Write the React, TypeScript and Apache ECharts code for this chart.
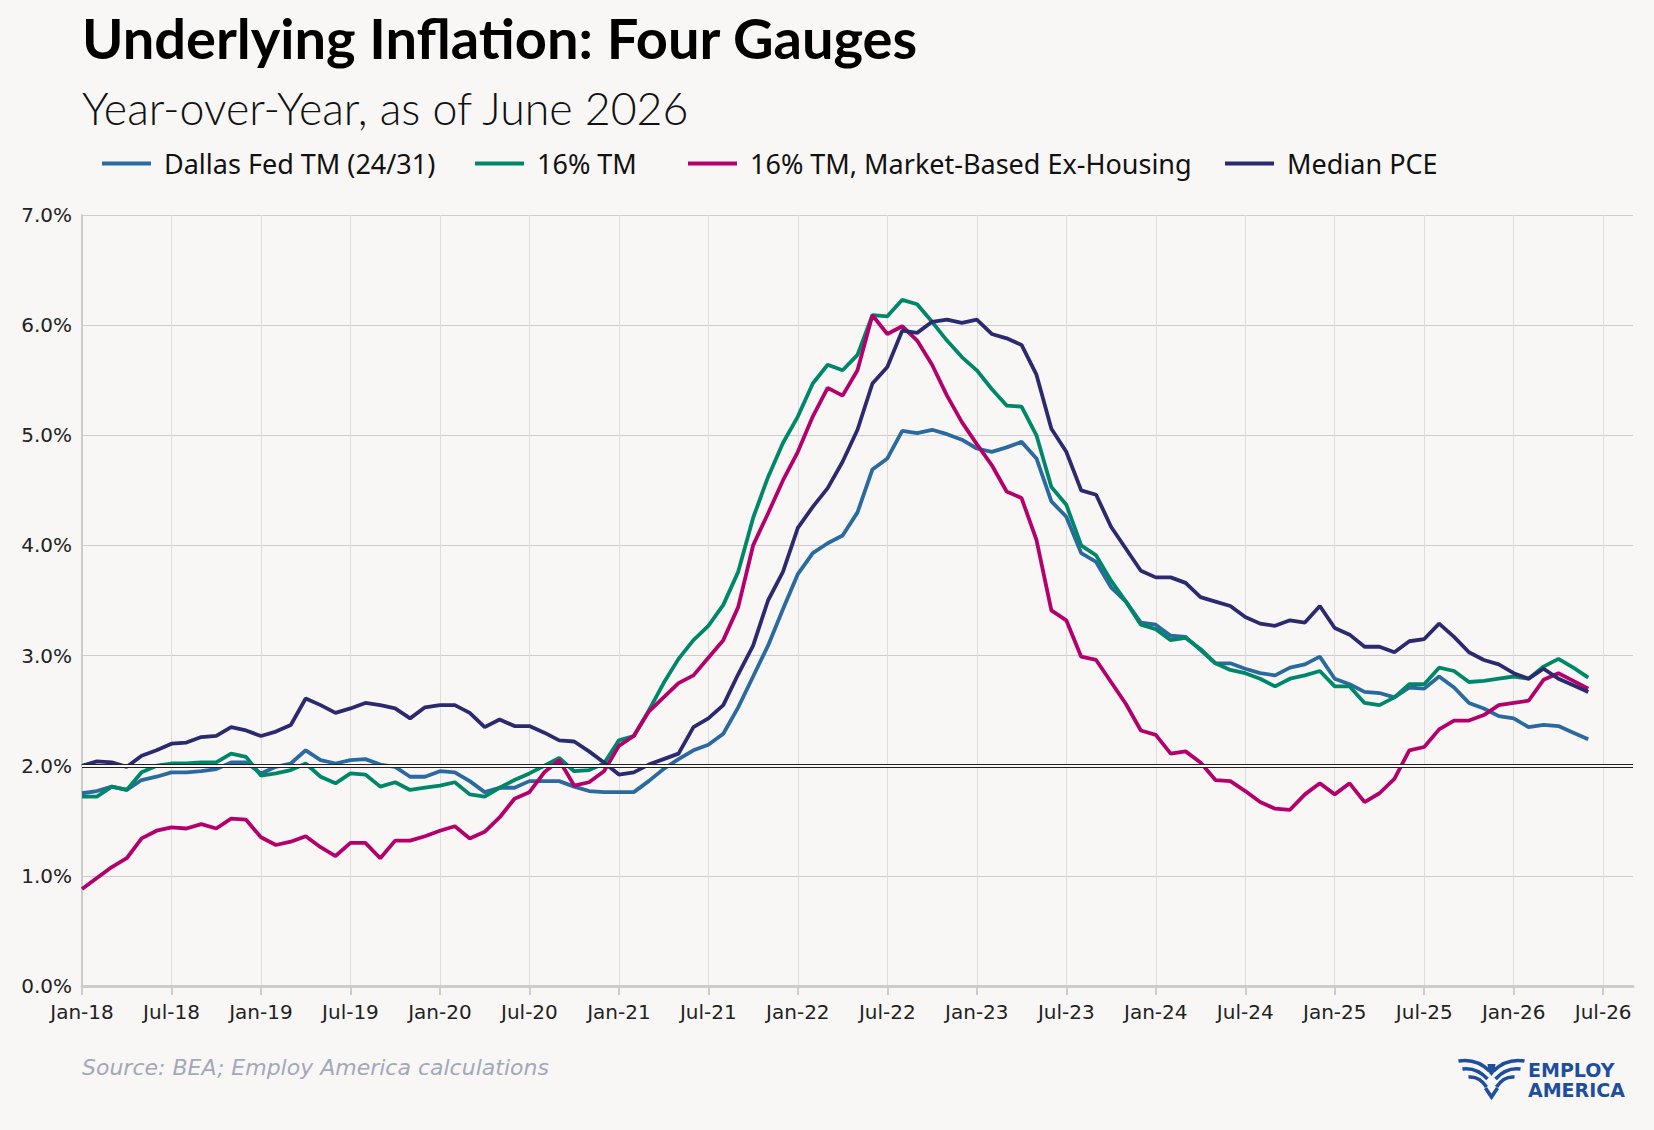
import React, { useEffect, useRef } from 'react';
import * as echarts from 'echarts';

// monthly, Jan-18 .. Jun-26, year-over-year %
const dallasFed = [
  1.75, 1.77, 1.81, 1.78, 1.87, 1.90, 1.94, 1.94, 1.95, 1.97, 2.03, 2.03,
  1.93, 1.99, 2.02, 2.14, 2.05, 2.02, 2.05, 2.06, 2.01, 1.99, 1.90, 1.90,
  1.95, 1.94, 1.86, 1.76, 1.80, 1.80, 1.86, 1.86, 1.86, 1.81, 1.77, 1.76,
  1.76, 1.76, 1.86, 1.97, 2.06, 2.14, 2.19, 2.29, 2.53, 2.81, 3.09, 3.42,
  3.74, 3.93, 4.02, 4.09, 4.30, 4.69, 4.79, 5.04, 5.02, 5.05, 5.01, 4.96,
  4.88, 4.85, 4.89, 4.94, 4.79, 4.40, 4.26, 3.93, 3.85, 3.62, 3.49, 3.30,
  3.28, 3.18, 3.17, 3.05, 2.93, 2.93, 2.88, 2.84, 2.82, 2.89, 2.92, 2.99,
  2.79, 2.74, 2.67, 2.66, 2.62, 2.71, 2.70, 2.81, 2.71, 2.57, 2.52, 2.45,
  2.43, 2.35, 2.37, 2.36, 2.30, 2.24,
];

const trimmed16 = [
  1.72, 1.72, 1.81, 1.78, 1.94, 2.00, 2.02, 2.02, 2.03, 2.03, 2.11, 2.08,
  1.91, 1.93, 1.96, 2.02, 1.90, 1.84, 1.93, 1.92, 1.81, 1.85, 1.78, 1.80,
  1.82, 1.85, 1.74, 1.72, 1.80, 1.87, 1.93, 2.00, 2.07, 1.95, 1.96, 2.02,
  2.23, 2.27, 2.50, 2.75, 2.97, 3.14, 3.27, 3.46, 3.76, 4.25, 4.62, 4.93,
  5.17, 5.47, 5.64, 5.59, 5.73, 6.09, 6.08, 6.23, 6.19, 6.03, 5.86, 5.71,
  5.59, 5.42, 5.27, 5.26, 5.00, 4.53, 4.37, 4.00, 3.91, 3.68, 3.49, 3.28,
  3.24, 3.14, 3.16, 3.06, 2.93, 2.87, 2.84, 2.79, 2.72, 2.79, 2.82, 2.86,
  2.72, 2.72, 2.57, 2.55, 2.62, 2.74, 2.74, 2.89, 2.86, 2.76, 2.77, 2.79,
  2.81, 2.79, 2.90, 2.97, 2.89, 2.80,
];

const marketExHousing = [
  0.88, 0.98, 1.08, 1.16, 1.34, 1.41, 1.44, 1.43, 1.47, 1.43, 1.52, 1.51,
  1.35, 1.28, 1.31, 1.36, 1.26, 1.18, 1.30, 1.30, 1.16, 1.32, 1.32, 1.36,
  1.41, 1.45, 1.34, 1.40, 1.53, 1.70, 1.76, 1.94, 2.05, 1.82, 1.85, 1.95,
  2.18, 2.27, 2.49, 2.62, 2.75, 2.82, 2.98, 3.14, 3.44, 4.00, 4.29, 4.59,
  4.85, 5.17, 5.43, 5.36, 5.59, 6.09, 5.92, 5.99, 5.86, 5.64, 5.36, 5.12,
  4.92, 4.73, 4.49, 4.43, 4.05, 3.41, 3.32, 2.99, 2.96, 2.76, 2.56, 2.32,
  2.28, 2.11, 2.13, 2.03, 1.87, 1.86, 1.77, 1.67, 1.61, 1.60, 1.74, 1.84,
  1.74, 1.84, 1.67, 1.75, 1.88, 2.14, 2.17, 2.33, 2.41, 2.41, 2.46, 2.55,
  2.57, 2.59, 2.78, 2.84, 2.77, 2.70,
];

const medianPce = [
  2.00, 2.04, 2.03, 1.99, 2.09, 2.14, 2.20, 2.21, 2.26, 2.27, 2.35, 2.32,
  2.27, 2.31, 2.37, 2.61, 2.55, 2.48, 2.52, 2.57, 2.55, 2.52, 2.43, 2.53,
  2.55, 2.55, 2.48, 2.35, 2.42, 2.36, 2.36, 2.30, 2.23, 2.22, 2.13, 2.03,
  1.92, 1.94, 2.01, 2.06, 2.11, 2.35, 2.43, 2.55, 2.83, 3.09, 3.50, 3.76,
  4.16, 4.35, 4.52, 4.76, 5.05, 5.47, 5.62, 5.95, 5.93, 6.03, 6.05, 6.02,
  6.05, 5.92, 5.88, 5.82, 5.55, 5.06, 4.85, 4.50, 4.46, 4.17, 3.97, 3.77,
  3.71, 3.71, 3.66, 3.53, 3.49, 3.45, 3.35, 3.29, 3.27, 3.32, 3.30, 3.45,
  3.25, 3.19, 3.08, 3.08, 3.03, 3.13, 3.15, 3.29, 3.17, 3.03, 2.96, 2.92,
  2.84, 2.79, 2.88, 2.79, 2.73, 2.67,
];

const seriesNames = [
  'Dallas Fed TM (24/31)',
  '16% TM',
  '16% TM, Market-Based Ex-Housing',
  'Median PCE',
];
const seriesColors = ['#2b6a9f', '#00876a', '#b3006b', '#2b2a6f'];

// axis runs Jan-18 .. Sep-26 so the Jul-26 tick sits inside the plot
const monthNames = ['Jan', 'Feb', 'Mar', 'Apr', 'May', 'Jun', 'Jul', 'Aug', 'Sep', 'Oct', 'Nov', 'Dec'];
const months: string[] = [];
for (let y = 18; y <= 26; y++) {
  for (let m = 0; m < 12; m++) {
    if (y === 26 && m > 8) break;
    months.push(`${monthNames[m]}-${y}`);
  }
}

const BG = '#f8f7f5';
const AXIS_FONT = 'DejaVu Sans';
// one legend per item so the gaps can follow the original
const legendLefts = [97, 470, 683, 1220];

const InflationChart: React.FC = () => {
  const chartRef = useRef<HTMLDivElement>(null);

  useEffect(() => {
    const chart = echarts.init(chartRef.current!, null, { renderer: 'svg' });
    const every6 = (i: number) => i % 6 === 0;

    const logoColor = '#1d4f9c';
    const wing = (x1: number, y1: number, cx: number, cy: number, x2: number, y2: number) => ({
      type: 'bezierCurve',
      shape: { x1, y1, cpx1: cx, cpy1: cy, x2, y2 },
      style: { stroke: logoColor, lineWidth: 3.6, fill: 'none' },
    });

    const option = {
      animation: false,
      backgroundColor: BG,
      grid: { left: 82, right: 21, top: 215, bottom: 144, containLabel: false },
      legend: seriesNames.map((name, k) => ({
        data: [name],
        left: legendLefts[k],
        top: 145,
        icon: 'rect',
        itemWidth: 49,
        itemHeight: 4,
        textStyle: { fontFamily: 'Noto Sans', fontSize: 27, color: '#111', padding: [0, 0, 0, 8] },
      })),
      xAxis: {
        type: 'category',
        data: months,
        boundaryGap: false,
        axisLine: { lineStyle: { color: '#cccccc', width: 3 } },
        axisTick: { interval: (i: number) => every6(i), length: 9, lineStyle: { color: '#cccccc', width: 2 } },
        axisLabel: {
          interval: (i: number) => every6(i),
          fontFamily: AXIS_FONT,
          fontSize: 20,
          color: '#222',
          margin: 16,
        },
        splitLine: { show: true, interval: (i: number) => every6(i), lineStyle: { color: '#dddddd', width: 1 } },
      },
      yAxis: {
        type: 'value',
        min: 0,
        max: 7,
        interval: 1,
        axisLine: { show: true, lineStyle: { color: '#cccccc', width: 2 } },
        axisTick: { show: false },
        axisLabel: {
          formatter: (v: number) => `${v.toFixed(1)}%`,
          fontFamily: AXIS_FONT,
          fontSize: 20,
          color: '#222',
          margin: 10,
        },
        splitLine: { lineStyle: { color: '#cccccc', width: 1 } },
      },
      series: [
        {
          name: '',
          type: 'line',
          data: [],
          silent: true,
          markLine: {
            silent: true,
            symbol: 'none',
            label: { show: false },
            data: [
              { yAxis: 2, lineStyle: { color: '#222', width: 4, type: 'solid' } },
              { yAxis: 2, lineStyle: { color: BG, width: 2, type: 'solid' } },
            ],
          },
        },
        ...[dallasFed, trimmed16, marketExHousing, medianPce].map((d, k) => ({
          name: seriesNames[k],
          type: 'line',
          data: d,
          showSymbol: false,
          symbol: 'none',
          lineStyle: { color: seriesColors[k], width: 3.8 },
          itemStyle: { color: seriesColors[k] },
        })),
      ],
      graphic: [
        {
          type: 'text',
          left: 82,
          top: 9,
          style: {
            text: 'Underlying Inflation: Four Gauges',
            fontFamily: 'Lato',
            fontWeight: 'bold',
            fontSize: 56,
            fill: '#000',
          },
        },
        {
          type: 'text',
          left: 82,
          top: 85,
          style: {
            text: 'Year-over-Year, as of June 2026',
            fontFamily: 'Lato',
            fontWeight: 300,
            fontSize: 44.7,
            fill: '#111',
          },
        },
        {
          type: 'text',
          left: 82,
          top: 1056,
          style: {
            text: 'Source: BEA; Employ America calculations',
            fontFamily: AXIS_FONT,
            fontStyle: 'italic',
            fontSize: 22,
            fill: '#a3a8b9',
          },
        },
        {
          type: 'group',
          left: 1456,
          top: 1058,
          children: [
            wing(0, 3, 18, 0, 31, 13),
            wing(4, 11, 18, 9, 29, 21),
            wing(10, 19, 21, 18, 28, 29),
            wing(66, 3, 48, 0, 35, 13),
            wing(62, 11, 48, 9, 37, 21),
            wing(56, 19, 45, 18, 38, 29),
            {
              type: 'polygon',
              shape: { points: [[29, 6], [37, 6], [36, 14], [33, 18], [30, 14]] },
              style: { fill: logoColor },
            },
            {
              type: 'polyline',
              shape: { points: [[27, 30], [33, 39], [39, 30]] },
              style: { stroke: logoColor, lineWidth: 3.6, fill: 'none' },
            },
          ],
        },
        {
          type: 'text',
          left: 1528,
          top: 1060,
          style: {
            text: 'EMPLOY',
            fontFamily: 'DejaVu Sans',
            fontWeight: 'bold',
            fontSize: 19,
            fill: logoColor,
          },
        },
        {
          type: 'text',
          left: 1528,
          top: 1080,
          style: {
            text: 'AMERICA',
            fontFamily: 'DejaVu Sans',
            fontWeight: 'bold',
            fontSize: 19,
            fill: logoColor,
          },
        },
      ],
    };

    chart.setOption(option as any);

    const handleResize = () => chart.resize();
    window.addEventListener('resize', handleResize);

    return () => {
      chart.dispose();
      window.removeEventListener('resize', handleResize);
    };
  }, []);

  return (
    <div
      ref={chartRef}
      style={{ position: 'fixed', left: 0, top: 0, width: '1654px', height: '1130px', background: BG }}
    />
  );
};

export default function App() {
  return <InflationChart />;
}
